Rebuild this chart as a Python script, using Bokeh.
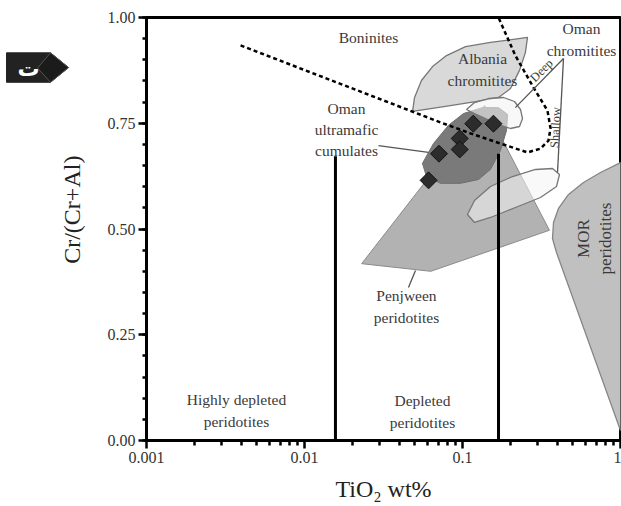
import numpy as np
from bokeh.plotting import figure
from bokeh.layouts import row
from bokeh.models import (FixedTicker, CustomJSTickFormatter, NumeralTickFormatter, Range1d)
from bokeh.core.properties import value
from bokeh.embed import file_html
from bokeh.resources import INLINE

# ---------------- data (TiO2 wt%, Cr/(Cr+Al)) ----------------
sample_tio2 = [0.117, 0.157, 0.096, 0.096, 0.071, 0.061]
sample_cr = [0.749, 0.749, 0.714, 0.688, 0.678, 0.615]

penjween_tio2 = [0.138, 0.355, 0.063, 0.023]
penjween_cr = [0.792, 0.497, 0.400, 0.418]

cumulates_tio2 = [0.0558, 0.0592, 0.0726, 0.0971, 0.1263, 0.1504, 0.174, 0.190, 0.193, 0.169, 0.134, 0.1015, 0.0815, 0.0655]
cumulates_cr = [0.655, 0.624, 0.608, 0.608, 0.617, 0.641, 0.686, 0.733, 0.771, 0.787, 0.787, 0.773, 0.745, 0.702]

albania_tio2 = [0.0483, 0.0497, 0.0550, 0.0646, 0.0792, 0.1045, 0.1504, 0.258, 0.250, 0.2295, 0.2013, 0.169, 0.1209, 0.0781]
albania_cr = [0.778, 0.811, 0.851, 0.884, 0.910, 0.931, 0.941, 0.953, 0.917, 0.875, 0.832, 0.811, 0.801, 0.790]

oman_deep_tio2 = [0.106, 0.1191, 0.1461, 0.1818, 0.2134, 0.2329, 0.2398, 0.2295, 0.2013, 0.169, 0.1398, 0.1191]
oman_deep_cr = [0.7825, 0.799, 0.8085, 0.8109, 0.8014, 0.7825, 0.7612, 0.7423, 0.7376, 0.747, 0.7612, 0.773]

oman_shallow_tio2 = [0.1075, 0.1191, 0.1504, 0.2073, 0.2897, 0.3712, 0.4111, 0.3935, 0.3117, 0.216, 0.1504, 0.1191]
oman_shallow_cr = [0.5343, 0.5674, 0.6005, 0.6241, 0.6407, 0.643, 0.6288, 0.6005, 0.5745, 0.5508, 0.5272, 0.5154]

mor_tio2 = [1.0, 0.747, 0.583, 0.469, 0.405, 0.3767, 0.3712, 0.3935, 1.0, 1.35, 1.35]
mor_cr = [0.657, 0.6336, 0.61, 0.5816, 0.5485, 0.5154, 0.4775, 0.4444, 0.0236, 0.0236, 0.657]

boninite_tio2 = [0.00394, 0.0726, 0.1124, 0.174, 0.2576, 0.3117, 0.350, 0.3606, 0.345, 0.281, 0.216, 0.169]
boninite_cr = [0.934, 0.752, 0.726, 0.702, 0.681, 0.690, 0.709, 0.738, 0.780, 0.835, 0.910, 1.0]

depletion_tio2 = [0.0157, 0.169]
depletion_top_cr = [0.672, 0.678]

leader_xs = [[0.4357, 0.216], [0.4357, 0.3993], [0.0294, 0.0609], [0.0504, 0.0455]]
leader_ys = [[0.903, 0.787], [0.903, 0.6336], [0.697, 0.681], [0.402, 0.3617]]

label_text = ["Boninites", "Albania\nchromitites", "Oman\nchromitites",
              "Oman\nultramafic\ncumulates", "Penjween\nperidotites",
              "Depleted\nperidotites", "Highly depleted\nperidotites"]
label_x = [0.0254, 0.1338, 0.5665, 0.01844, 0.0442, 0.0558, 0.00371]
label_y = [0.953, 0.877, 0.948, 0.735, 0.3168, 0.0686, 0.0709]

x_ticks = [0.001, 0.01, 0.1, 1]
x_minor = [k * 10.0 ** e for e in (-3, -2, -1) for k in range(2, 10)]
y_ticks = [0.0, 0.25, 0.5, 0.75, 1.0]
y_minor = [i * 0.05 for i in range(21)]

x_title = "TiO₂ wt%"
y_title = "Cr/(Cr+Al)"
badge_letter = "ت"

SERIF = "Liberation Serif"
LEFT_W = 90

p = figure(x_axis_type="log", x_range=Range1d(0.001, 1.0), y_range=Range1d(0.0, 1.0),
           frame_width=474, frame_height=423,
           min_border_left=146 - LEFT_W, min_border_top=17, min_border_right=1, min_border_bottom=0,
           output_backend="svg", toolbar_location=None)
p.background_fill_color = "white"
p.border_fill_color = "white"
p.xgrid.visible = False
p.ygrid.visible = False
p.outline_line_color = "black"
p.outline_line_width = 3

# regions
p.patch(penjween_tio2, penjween_cr, fill_color="#b2b2b2", line_color="#8a8a8a", line_width=1)
p.patch(cumulates_tio2, cumulates_cr, fill_color="#7a7a7a", line_color="#6e6e6e", line_width=1)
p.patch(albania_tio2, albania_cr, fill_color="#d9d9d9", line_color="#777777", line_width=1.3)
p.patch(oman_deep_tio2, oman_deep_cr, fill_color="#f4f4f4", fill_alpha=0.6, line_color="#777777", line_width=1.3)
p.patch(oman_shallow_tio2, oman_shallow_cr, fill_color="#f4f4f4", fill_alpha=0.55, line_color="#777777", line_width=1.3)
p.patch(mor_tio2, mor_cr, fill_color="#c0c0c0", line_color="#858585", line_width=1.3)

# depletion boundaries
p.segment(x0=depletion_tio2, y0=[0, 0], x1=depletion_tio2, y1=depletion_top_cr, line_color="black", line_width=3)

# boninite field boundary
p.line(boninite_tio2, boninite_cr, line_color="black", line_width=2.5, line_dash="4 3")

# leader lines
p.multi_line(leader_xs, leader_ys, line_color="#555555", line_width=1.3)

# samples
p.scatter(sample_tio2, sample_cr, marker="square", size=12, angle=np.pi / 4,
          fill_color="#2c2c2c", line_color="#111111", line_width=1)

# region labels
p.text(x=label_x, y=label_y, text=label_text, text_font=value(SERIF), text_font_size="15.5px",
       text_align="center", text_baseline="middle", text_color="#3a3a3a", text_line_height=1.25)
p.text(x=[0.6844], y=[0.4775], text=["MOR\nperidotites"], angle=np.pi / 2, text_font=value(SERIF),
       text_font_size="17px", text_align="center", text_baseline="middle", text_color="#3a3a3a",
       text_line_height=1.15)
p.text(x=[0.3162], y=[0.8747], text=["Deep"], angle=np.pi / 4, text_font=value(SERIF),
       text_font_size="12.5px", text_align="center", text_baseline="middle", text_color="#3a3a3a")
p.text(x=[0.3878], y=[0.74], text=["Shallow"], angle=1.52, text_font=value(SERIF),
       text_font_size="12.5px", text_align="center", text_baseline="middle", text_color="#3a3a3a")

# axes
p.xaxis.ticker = FixedTicker(ticks=x_ticks, minor_ticks=x_minor)
p.xaxis.formatter = CustomJSTickFormatter(code="return String(tick);")
p.yaxis.ticker = FixedTicker(ticks=y_ticks, minor_ticks=y_minor)
p.yaxis.formatter = NumeralTickFormatter(format="0.00")
p.xaxis.axis_label = x_title
for ax, mo in ((p.xaxis[0], 5), (p.yaxis[0], 4)):
    ax.axis_line_width = 3
    ax.axis_line_color = "black"
    ax.major_tick_line_width = 2.5
    ax.minor_tick_line_width = 2.5
    ax.major_tick_in = 0
    ax.major_tick_out = 8
    ax.minor_tick_in = 0
    ax.minor_tick_out = mo
    ax.major_label_standoff = 3
    ax.major_label_text_font = SERIF
    ax.major_label_text_font_size = "16px"
    ax.major_label_text_color = "#333333"
    ax.axis_label_text_font = SERIF
    ax.axis_label_text_font_style = "normal"
    ax.axis_label_text_font_size = "24px"
    ax.axis_label_text_color = "#222222"
p.xaxis.axis_label_standoff = 10

# ---------------- left strip: badge and the y-axis title (pixel coordinates, y up) ----------------
fig_h = 17 + 423 + 8 + 3 + 19 + 10 + 30
b = figure(width=LEFT_W, height=fig_h, x_range=Range1d(0, LEFT_W), y_range=Range1d(0, fig_h),
           min_border=0, output_backend="svg", toolbar_location=None,
           x_axis_location=None, y_axis_location=None)
b.xgrid.visible = False
b.ygrid.visible = False
b.outline_line_color = None
b.background_fill_color = "white"
b.border_fill_color = "white"
top = lambda ys: [fig_h - y for y in ys]
b.patch([6, 50, 68, 50, 6], top([42, 42, 59.5, 77, 77]), fill_color="#222222", line_color="#222222")
b.patch([50, 68, 50, 37], top([42, 59.5, 77, 60]), fill_color="#1b1b1b", line_color="#555555", line_width=1)
b.text(x=[28], y=top([61]), text=[badge_letter], text_color="white", text_font_size="22px",
       text_font=value("DejaVu Sans"), text_font_style="bold", text_align="center", text_baseline="middle")
b.text(x=[71], y=top([17 + 423 / 2]), text=[y_title], angle=np.pi / 2, text_color="#222222",
       text_font_size="24px", text_font=value(SERIF), text_align="center", text_baseline="middle")

open("out.html", "w").write(file_html(row(b, p), INLINE))
